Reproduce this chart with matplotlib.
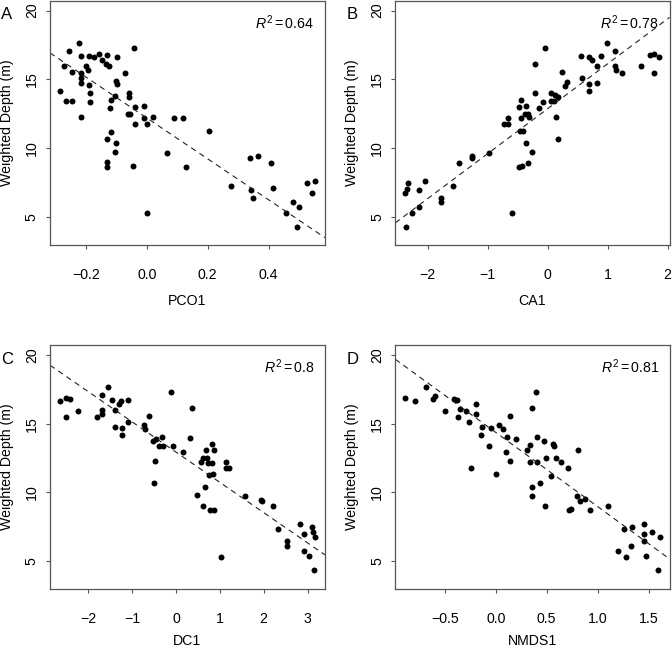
import numpy as np
import matplotlib
matplotlib.use('Agg')
import matplotlib.pyplot as plt

plt.rcParams.update({'font.family': 'Liberation Sans',
                     'font.size': 10.2,
                     'mathtext.fontset': 'custom',
                     'mathtext.rm': 'Liberation Sans',
                     'mathtext.it': 'Liberation Sans:italic'})

# panel A: PCO1
pco1 = [-0.223, -0.255, -0.044, -0.271, -0.216, -0.191, -0.174, -0.158, -0.132, -0.147,
        -0.136, -0.123, -0.098, -0.201, -0.194, -0.245, -0.216, -0.216, -0.215, -0.191,
        -0.285, -0.188, -0.266, -0.245, -0.186, -0.073, -0.100, -0.099, -0.059, -0.059,
        -0.106, -0.117, -0.121, -0.039, -0.009, -0.061, -0.054, -0.009, 0.020, -0.038,
        0.001, -0.218, -0.117, -0.130, -0.101, -0.104, -0.130, -0.130, -0.045, 0.001,
        0.088, 0.119, 0.203, 0.066, 0.127, 0.276, 0.339, 0.365, 0.409, 0.342,
        0.349, 0.414, 0.456, 0.481, 0.499, 0.493, 0.527, 0.552, 0.542]
depth_a = [17.67, 17.03, 17.25, 15.94, 16.69, 16.72, 16.62, 16.84, 16.79, 16.40,
           16.13, 15.94, 16.62, 15.99, 15.65, 15.53, 15.43, 15.09, 14.72, 14.58,
           14.16, 14.00, 13.39, 13.39, 13.36, 15.48, 14.85, 14.65, 13.97, 13.70,
           13.80, 13.48, 12.90, 13.00, 13.07, 12.49, 12.49, 12.15, 12.22, 11.76,
           11.73, 12.24, 11.17, 10.64, 10.37, 9.72, 8.96, 8.65, 8.72, 5.27,
           12.15, 12.17, 11.27, 9.67, 8.65, 7.26, 9.30, 9.45, 8.94, 6.94,
           6.38, 7.06, 5.29, 6.07, 5.68, 4.27, 7.43, 7.62, 6.72]

# panel B: CA1
ca1 = [-2.356, -2.372, -2.344, -2.328, -2.261, -2.150, -2.139, -2.050, -1.783, -1.772,
       -1.578, -1.478, -1.267, -1.256, -0.972, -0.722, -0.661, -0.661, -0.589, -0.472,
       -0.428, -0.333, -0.456, -0.406, -0.356, -0.267, -0.472, -0.444, -0.361, -0.439,
       -0.383, -0.328, -0.306, -0.217, -0.206, -0.150, -0.078, -0.044, 0.050, 0.056,
       0.106, 0.117, 0.167, 0.133, 0.167, 0.233, 0.283, 0.322, 0.561, 0.572,
       0.683, 0.683, 0.694, 0.733, 0.822, 0.828, 0.894, 0.983, 1.128, 1.128,
       1.139, 1.239, 1.556, 1.706, 1.778, 1.772, 1.861]
depth_b = [4.27, 6.72, 7.02, 7.43, 5.29, 6.92, 5.68, 7.62, 6.38, 6.07,
           7.26, 8.94, 9.45, 9.30, 9.67, 11.73, 11.73, 12.17, 5.27, 8.65,
           8.67, 8.94, 11.27, 11.20, 10.37, 9.72, 13.00, 13.48, 13.07, 12.15,
           12.49, 12.49, 12.22, 16.09, 13.97, 12.90, 13.36, 17.25, 14.00, 13.39,
           13.39, 13.87, 13.70, 12.22, 10.64, 15.50, 14.53, 14.82, 16.69, 15.09,
           14.65, 14.16, 16.62, 16.38, 15.99, 14.72, 16.67, 17.67, 17.03, 15.94,
           15.65, 15.45, 15.94, 16.79, 16.84, 15.48, 16.62]

# panel C: DC1
dc1 = [-2.641, -2.511, -2.428, -2.511, -2.230, -1.804, -1.689, -1.689, -1.689, -1.553,
       -1.461, -1.400, -1.301, -1.263, -1.400, -1.240, -1.240, -1.088, -1.096, -0.738,
       -0.700, -0.624, -0.533, -0.457, -0.487, -0.510, -0.381, -0.320, -0.297, -0.114,
       -0.061, 0.160, 0.327, 0.365, 0.487, 0.563, 0.624, 0.693, 0.715, 0.738,
       0.814, 0.670, 0.624, 0.761, 0.845, 0.822, 0.860, 0.784, 0.860, 1.027,
       1.134, 1.142, 1.210, 1.583, 1.948, 1.963, 2.215, 2.321, 2.534, 2.534,
       2.823, 2.930, 2.915, 3.113, 3.135, 3.166, 3.044, 3.143]
depth_c = [16.64, 16.86, 16.81, 15.48, 15.94, 15.45, 17.06, 15.96, 15.67, 17.69,
           16.69, 15.99, 16.40, 16.62, 14.75, 14.65, 14.16, 16.72, 15.14, 14.87,
           14.58, 15.53, 13.73, 13.85, 12.27, 10.66, 13.39, 13.99, 13.36, 17.28,
           13.39, 12.92, 13.97, 16.11, 9.76, 12.22, 12.51, 13.10, 12.51, 12.15,
           12.15, 10.40, 8.96, 11.22, 11.30, 13.53, 13.05, 8.69, 8.69, 5.27,
           12.22, 11.78, 11.76, 9.69, 9.45, 9.35, 8.96, 7.28, 6.46, 6.07,
           7.67, 6.97, 5.70, 7.48, 7.09, 6.75, 5.31, 4.32]

# panel D: NMDS1
nmds1 = [-0.885, -0.793, -0.679, -0.616, -0.593, -0.498, -0.413, -0.384, -0.374, -0.351,
         -0.295, -0.262, -0.197, -0.190, -0.246, -0.131, -0.141, -0.069, -0.043, 0.003,
         0.030, 0.072, 0.098, 0.115, 0.141, 0.138, 0.203, 0.311, 0.334, 0.341,
         0.361, 0.357, 0.357, 0.393, 0.403, 0.410, 0.436, 0.472, 0.482, 0.489,
         0.538, 0.567, 0.574, 0.587, 0.643, 0.708, 0.721, 0.738, 0.810, 0.800,
         0.826, 0.872, 0.925, 1.105, 1.203, 1.259, 1.275, 1.331, 1.334, 1.459,
         1.459, 1.459, 1.475, 1.534, 1.613, 1.597]
depth_d = [16.86, 16.64, 17.69, 16.81, 17.03, 15.94, 16.76, 16.69, 15.48, 16.04,
           15.94, 15.14, 15.67, 16.43, 11.78, 14.75, 14.19, 13.39, 14.65, 11.30,
           14.87, 14.58, 12.92, 13.99, 15.53, 12.24, 13.85, 13.10, 13.41, 12.17,
           16.11, 10.40, 9.74, 17.30, 12.17, 13.99, 10.66, 13.70, 8.96, 12.51,
           11.20, 13.53, 13.39, 12.51, 12.22, 11.73, 8.69, 8.74, 13.05, 9.72,
           9.35, 9.47, 8.67, 8.96, 5.70, 7.28, 5.27, 6.07, 7.45, 7.67,
           6.97, 6.44, 5.31, 7.09, 6.75, 4.32]

letters = ['A', 'B', 'C', 'D']
xlabels = ['PCO1', 'CA1', 'DC1', 'NMDS1']
r2_vals = ['0.64', '0.78', '0.8', '0.81']
# fitted lines (intercept, slope)
fits = [(12.18, -14.87), (12.86, 3.27), (12.92, -2.205), (14.36, -5.41)]
xticks = [[-0.2, 0.0, 0.2, 0.4], [-2, -1, 0, 1, 2], [-2, -1, 0, 1, 2, 3],
          [-0.5, 0.0, 0.5, 1.0, 1.5]]
xticklabels = [['\u22120.2', '0.0', '0.2', '0.4'],
               ['\u22122', '\u22121', '0', '1', '2'],
               ['\u22122', '\u22121', '0', '1', '2', '3'],
               ['\u22120.5', '0.0', '0.5', '1.0', '1.5']]
xs = [pco1, ca1, dc1, nmds1]
ys = [depth_a, depth_b, depth_c, depth_d]

W, H = 672, 649
fig = plt.figure(figsize=(W / 100, H / 100), dpi=100)
# axes boxes in pixels: left, top, right, bottom
boxes = [(50, 0.5, 325, 245), (395.3, 0.5, 669.5, 245),
         (50, 345, 325, 589), (395.3, 345, 670.3, 589)]

for i in range(4):
    l, t, r, b = boxes[i]
    ax = fig.add_axes([l / W, 1 - b / H, (r - l) / W, (b - t) / H])
    x = np.array(xs[i])
    y = np.array(ys[i])
    ax.plot(x, y, 'o', color='black', markersize=4.3, markeredgewidth=0)
    lo, hi = x.min(), x.max()
    ax.set_xlim(lo - 0.04 * (hi - lo), hi + 0.04 * (hi - lo))
    ax.set_ylim(2.94, 20.73)
    a0, m = fits[i]
    ax.axline((0, a0), slope=m, color='#222222', lw=0.8, linestyle=(0, (5, 4)))
    ax.set_xticks(xticks[i])
    ax.set_xticklabels(xticklabels[i])
    ax.set_yticks([5, 10, 15, 20])
    ax.set_yticklabels(['5', '10', '15', '20'], rotation=90, va='center')
    ax.tick_params(axis='x', length=3, width=0.8, color='#555555', pad=13.5)
    ax.tick_params(axis='y', length=3, width=0.8, color='#555555', pad=5)
    for s in ax.spines.values():
        s.set_color('#555555')
        s.set_linewidth(0.9)
    ax.set_xlabel(xlabels[i], labelpad=9 if i < 2 else 6)
    ax.set_ylabel('Weighted Depth (m)', labelpad=8)
    ax.text(0.962, 0.948, r'$R^2 = $' + r2_vals[i], transform=ax.transAxes,
            ha='right', va='top', fontsize=10.2)
    fig.text((l - 43) / W, 1 - (t + 14) / H, letters[i], fontsize=12,
             ha='center', va='center')

fig.savefig('out.png', dpi=100)
